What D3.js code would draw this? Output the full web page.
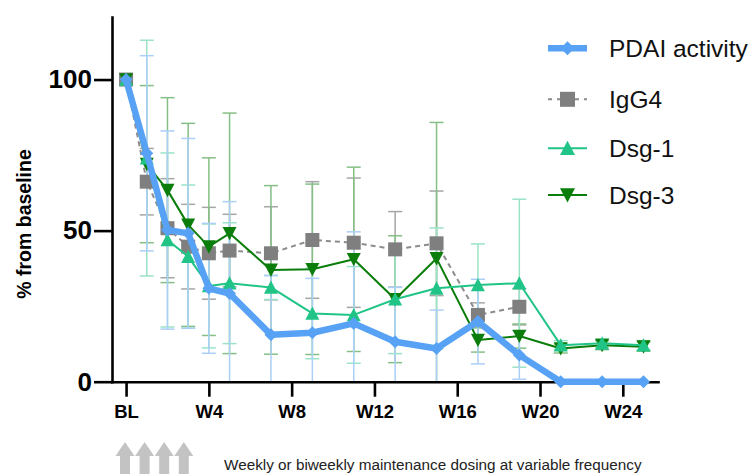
<!DOCTYPE html>
<html>
<head>
<meta charset="utf-8">
<script src="https://cdn.jsdelivr.net/npm/d3@7"></script>
<style>
	body { margin: 0; background: #fff; }
	svg { display: block; font-family: "Liberation Sans", Arial, sans-serif; }
	svg text { font-family: "Liberation Sans", Arial, sans-serif; }
</style>
</head>
<body>
<svg id="chart" width="752" height="474"></svg>
<script>
//data: weeks from baseline, % from baseline, +/- SD
var weeks = [0, 1, 2, 3, 4, 5, 7, 9, 11, 13, 15, 17, 19, 21, 23, 25];
var weeksIgG4 = [0, 1, 2, 3, 4, 5, 7, 9, 11, 13, 15, 17, 19];

var pdai   = [100, 75.6, 50.2, 49.1, 30.9, 29.2, 15.5, 16.2, 19.3, 13.2, 11.0, 19.9, 8.8, 0, 0, 0];
var pdaiSd = [0, 32.3, 32.8, 31.4, 21.5, 30.4, 19.6, 18, 30.3, 18, 12.7, 14, 8, 0, 0, 0];

var igg4   = [100, 66.2, 50.8, 44.7, 42.5, 43.4, 42.5, 46.9, 46.0, 43.8, 45.8, 22.1, 24.8];
var igg4Sd = [0, 11, 16.4, 14, 15.2, 12, 15.4, 19.3, 21.4, 12.5, 17.3, 4, 6];

var dsg1   = [100, 74, 46.9, 41.4, 31.7, 32.6, 31.2, 22.6, 22.1, 27.3, 30.9, 32.0, 32.6, 12.1, 12.7, 12.1];
var dsg1Sd = [0, 39, 28.8, 23.7, 20.5, 20, 4, 15, 16, 18, 20, 13.6, 27.8, 1.5, 1.5, 1.5];

var dsg3   = [100, 72, 63.4, 51.9, 44.7, 49.1, 37.0, 37.2, 40.5, 27.3, 40.8, 13.8, 15.1, 11.0, 12.1, 11.6];
var dsg3Sd = [0, 26, 30.6, 33.6, 29.4, 39.8, 27.9, 28.2, 30.5, 21, 45, 4, 4, 1.5, 1.5, 1.5];

var xTicks = [0, 4, 8, 12, 16, 20, 24];
var xTickLabels = ["BL", "W4", "W8", "W12", "W16", "W20", "W24"];
var yTicks = [0, 50, 100];

var legendNames = ["PDAI activity", "IgG4", "Dsg-1", "Dsg-3"];
var dosingArrows = 4;
var footnote = "Weekly or biweekly maintenance dosing at variable frequency";

//series styling (drawing order: bottom first)
var series = [
	{name: "IgG4", w: weeksIgG4, v: igg4, sd: igg4Sd, color: "#7f7f7f", line: "#8c8c8c", err: "#a6a6a6", width: 2, dash: "5,4", marker: "square", size: 7, legend: 1},
	{name: "Dsg-3", w: weeks, v: dsg3, sd: dsg3Sd, color: "#0a7d0a", line: "#0a7d0a", err: "#86bf86", width: 2, dash: null, marker: "down", size: 7, legend: 3},
	{name: "Dsg-1", w: weeks, v: dsg1, sd: dsg1Sd, color: "#1fc486", line: "#1fc486", err: "#9ae3c6", width: 2, dash: null, marker: "up", size: 7, legend: 2},
	{name: "PDAI activity", w: weeks, v: pdai, sd: pdaiSd, color: "#58a2f6", line: "#58a2f6", err: "#abcff7", width: 6.5, dash: null, marker: "diamond", size: 6.5, legend: 0}
];

var svg = d3.select("#chart");

var x = d3.scaleLinear().domain([-0.68, 25.7]).range([112, 658]);
var y = d3.scaleLinear().domain([0, 120.7]).range([381.7, 17]);

function markerPath(type, s) {
	if (type == "diamond") return "M0," + (-s) + "L" + s + ",0L0," + s + "L" + (-s) + ",0Z";
	if (type == "square") return "M" + (-s) + "," + (-s) + "H" + s + "V" + s + "H" + (-s) + "Z";
	if (type == "up") return "M0," + (-s) + "L" + s + "," + (s * 0.9) + "L" + (-s) + "," + (s * 0.9) + "Z";
	return "M0," + s + "L" + s + "," + (-s * 0.9) + "L" + (-s) + "," + (-s * 0.9) + "Z";
}

//error bars first, clipped at 0 (no cap when clipped)
var gErr = svg.append("g");
series.forEach(function(s) {
	s.v.forEach(function(v, i) {
		var sd = s.sd[i];
		if (!sd) return;
		var cx = x(s.w[i]);
		var hi = v + sd, lo = Math.max(0, v - sd);
		gErr.append("line")
			.attr("x1", cx).attr("x2", cx)
			.attr("y1", y(lo)).attr("y2", y(hi))
			.attr("stroke", s.err).attr("stroke-width", 1.5);
		gErr.append("line")
			.attr("x1", cx - 7).attr("x2", cx + 7)
			.attr("y1", y(hi)).attr("y2", y(hi))
			.attr("stroke", s.err).attr("stroke-width", 1.5);
		if (v - sd > 0) {
			gErr.append("line")
				.attr("x1", cx - 7).attr("x2", cx + 7)
				.attr("y1", y(lo)).attr("y2", y(lo))
				.attr("stroke", s.err).attr("stroke-width", 1.5);
		}
	});
});

//axes
var yAxis = d3.axisLeft(y).tickValues(yTicks).tickSize(18).tickSizeOuter(0).tickPadding(2);
var gy = svg.append("g").attr("transform", "translate(112,0)").call(yAxis);
gy.attr("font-family", null);
gy.selectAll("text").attr("font-size", 26).attr("font-weight", "bold").attr("fill", "#000");

var xAxis = d3.axisBottom(x).tickValues(xTicks).tickFormat(function(d, i) { return xTickLabels[i]; })
	.tickSize(15).tickSizeOuter(0).tickPadding(8.5);
var gx = svg.append("g").attr("transform", "translate(0,381.7)").call(xAxis);
gx.attr("font-family", null);
gx.selectAll("text").attr("font-size", 18.5).attr("font-weight", "bold").attr("fill", "#000");

[gx, gy].forEach(function(g) {
	g.select(".domain").attr("stroke", "#000").attr("stroke-width", 2.6).attr("stroke-linecap", "square");
	g.selectAll(".tick line").attr("stroke", "#000").attr("stroke-width", 2.6);
});

svg.append("text")
	.attr("transform", "translate(31,224) rotate(-90)")
	.attr("text-anchor", "middle")
	.attr("font-size", 19.5)
	.attr("font-weight", "bold")
	.text("% from baseline");

//lines and markers
series.forEach(function(s) {
	var line = d3.line()
		.x(function(d, i) { return x(s.w[i]); })
		.y(function(d) { return y(d); });
	svg.append("path")
		.datum(s.v)
		.attr("d", line)
		.attr("fill", "none")
		.attr("stroke", s.line)
		.attr("stroke-width", s.width)
		.attr("stroke-linejoin", "round")
		.attr("stroke-dasharray", s.dash);
	svg.append("g").selectAll("path")
		.data(s.v)
		.enter().append("path")
		.attr("transform", function(d, i) { return "translate(" + x(s.w[i]) + "," + y(d) + ")"; })
		.attr("d", markerPath(s.marker, s.size))
		.attr("fill", s.color);
});

//legend
var legendY = [48.3, 99.3, 148.3, 195];
series.forEach(function(s) {
	var ly = legendY[s.legend];
	var g = svg.append("g").attr("transform", "translate(0," + ly + ")");
	g.append("line")
		.attr("x1", 548).attr("x2", 587)
		.attr("stroke", s.line)
		.attr("stroke-width", s.width)
		.attr("stroke-dasharray", s.dash ? "4,5" : null);
	g.append("path")
		.attr("transform", "translate(567.5,0)")
		.attr("d", markerPath(s.marker, s.size + 0.5))
		.attr("fill", s.color);
	g.append("text")
		.attr("x", 609)
		.attr("dy", "0.36em")
		.attr("font-size", 24.5)
		.attr("fill", "#111")
		.text(legendNames[s.legend]);
});

//dosing arrows below the axis
var arrowPitch = 19.6, arrowX0 = 125;
for (var a = 0; a < dosingArrows; a++) {
	var ax = arrowX0 + a * arrowPitch;
	svg.append("path")
		.attr("d", "M" + ax + ",442L" + (ax + 9.5) + ",456H" + (ax + 5) + "V476H" + (ax - 5) + "V456H" + (ax - 9.5) + "Z")
		.attr("fill", "#c3c3c3");
}

var note = svg.append("text")
	.attr("x", 224)
	.attr("y", 470)
	.attr("font-size", 14)
	.attr("fill", "#222")
	.text(footnote);
var len = note.node().getComputedTextLength();
note.attr("font-size", 14 * 418 / len);
</script>
</body>
</html>
